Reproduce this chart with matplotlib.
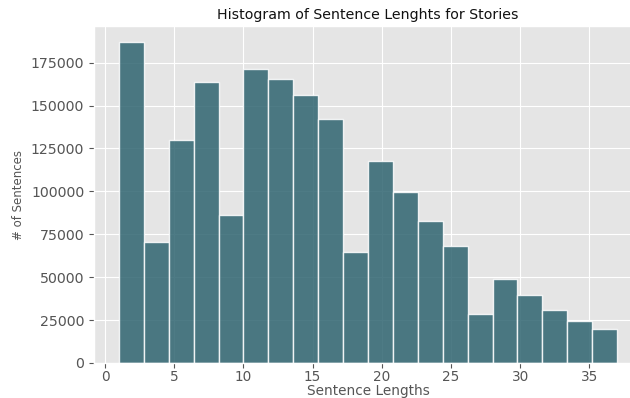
import numpy as np
import matplotlib
matplotlib.use("Agg")
import matplotlib.pyplot as plt

plt.style.use("ggplot")

# Data: histogram of sentence lengths (20 bins between 1 and 37)
length_min = 1
length_max = 37
n_bins = 20
counts = [187000, 70400, 130000, 163600, 86300, 171500, 165500, 156000, 142200, 64800,
          117600, 99700, 82800, 67900, 28700, 48700, 39600, 31000, 24600, 19600]

title = "Histogram of Sentence Lenghts for Stories"
xlabel = "Sentence Lengths"
ylabel = "# of Sentences"

edges = np.linspace(length_min, length_max, n_bins + 1)
centers = (edges[:-1] + edges[1:]) / 2

fig = plt.figure(figsize=(6.3, 3.98), dpi=100)
ax = fig.add_axes([94 / 630, 1 - 363 / 398, 548 / 630, (363 - 26) / 398])

ax.hist(centers, bins=edges, weights=counts, color="#2f6470", alpha=0.85,
        edgecolor="white", linewidth=1.0)

ax.set_title(title, fontsize=10.2, color="#111111", pad=5)
ax.set_xlabel(xlabel, fontsize=9.8, color="#555555", labelpad=0)
ax.set_ylabel(ylabel, fontsize=8.5, color="#555555", labelpad=4)
ax.tick_params(axis="y", labelsize=10.2, colors="#555555")
ax.tick_params(axis="x", labelsize=9.8, colors="#555555", pad=1.5)

fig.savefig("out.png", dpi=100)
